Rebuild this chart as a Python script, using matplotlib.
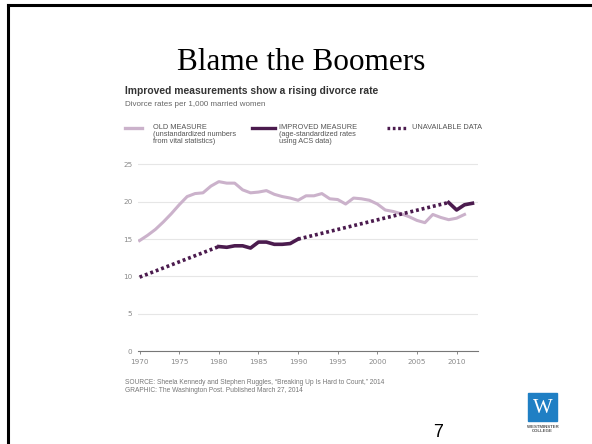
import matplotlib
matplotlib.use("Agg")
from matplotlib import pyplot as plt
from matplotlib.patches import Rectangle
from matplotlib.lines import Line2D

old_years = list(range(1970, 2012))
old_rate = [14.8, 15.5, 16.3, 17.3, 18.4, 19.6, 20.7, 21.1, 21.2, 22.1,
            22.7, 22.5, 22.5, 21.6, 21.2, 21.3, 21.5, 21.0, 20.7, 20.5,
            20.2, 20.8, 20.8, 21.1, 20.4, 20.3, 19.7, 20.5, 20.4, 20.2,
            19.7, 18.9, 18.7, 18.4, 18.0, 17.5, 17.2, 18.3, 17.9, 17.6,
            17.8, 18.3]

new_years_a = list(range(1980, 1991))
new_rate_a = [14.0, 13.9, 14.1, 14.1, 13.8, 14.6, 14.6, 14.3, 14.3, 14.4, 15.0]
new_years_b = [2009, 2010, 2011, 2012]
new_rate_b = [19.9, 18.9, 19.6, 19.8]

gap_years_a = [1970, 1980]
gap_rate_a = [9.9, 14.0]
gap_years_b = [1990, 2009]
gap_rate_b = [15.0, 19.9]

yticks = [0, 5, 10, 15, 20, 25]
xticks = [1970, 1975, 1980, 1985, 1990, 1995, 2000, 2005, 2010]

light = "#cbb2cb"
dark = "#4b1b4e"
grey = "#8a8a8a"

fig = plt.figure(figsize=(5.92, 4.44), dpi=100)
W, H = 592, 444

# slide frame
fig.add_artist(Line2D([8 / W, 8 / W], [0, 1 - 5 / H], color="black", lw=2.2))
fig.add_artist(Line2D([8 / W, 1], [1 - 5 / H, 1 - 5 / H], color="black", lw=2.2))

fig.text(301 / W, 1 - 63 / H, "Blame the Boomers", fontsize=22.5, family="Liberation Serif",
         ha="center", va="center")

fig.text(125 / W, 1 - 91 / H, "Improved measurements show a rising divorce rate",
         fontsize=7.4, weight="bold", color="#333333", va="center", family="Liberation Sans")
fig.text(125 / W, 1 - 105 / H, "Divorce rates per 1,000 married women",
         fontsize=5.8, color="#666666", va="center", family="Liberation Sans")

ax = fig.add_axes([138 / W, 1 - 351 / H, 340 / W, 191 / H])

ax.plot(old_years, old_rate, color=light, lw=2.2, solid_joinstyle="round")
ax.plot(gap_years_a, gap_rate_a, color=dark, lw=2.6, ls=(0, (0.8, 0.8)))
ax.plot(gap_years_b, gap_rate_b, color=dark, lw=2.6, ls=(0, (0.8, 0.8)))
ax.plot(new_years_a, new_rate_a, color=dark, lw=2.6)
ax.plot(new_years_b, new_rate_b, color=dark, lw=2.6)

ax.set_xlim(1969.8, 2012.7)
ax.set_ylim(0, 25.6)
ax.set_yticks(yticks)
ax.set_xticks(xticks)
ax.grid(axis="y", color="#e6e6e6", lw=0.8)
ax.set_axisbelow(True)
for s in ["top", "right", "left"]:
    ax.spines[s].set_visible(False)
ax.spines["bottom"].set_color("#777777")
ax.spines["bottom"].set_linewidth(0.8)
ax.tick_params(axis="y", length=0, labelsize=5.2, labelcolor=grey, pad=4)
ax.tick_params(axis="x", length=2.5, width=0.6, color="#777777", labelsize=5.2,
               labelcolor=grey, pad=3)

# legend
def legend_item(x0, x1, text_x, style, color, label):
    fig.add_artist(Line2D([x0 / W, x1 / W], [1 - 128 / H] * 2, color=color, lw=2.4, ls=style))
    fig.text(text_x / W, 1 - 124 / H, label, fontsize=5.3, color="#555555", va="top",
             family="Liberation Sans", linespacing=1.0)

legend_item(125, 142, 153, "-", light,
            "OLD MEASURE\n(unstandardized numbers\nfrom vital statistics)")
legend_item(252, 275, 279, "-", dark,
            "IMPROVED MEASURE\n(age-standardized rates\nusing ACS data)")
legend_item(387, 407, 412, (0, (0.8, 0.8)), dark, "UNAVAILABLE DATA")

fig.text(125 / W, 1 - 383 / H,
         "SOURCE: Sheela Kennedy and Stephen Ruggles, \u201cBreaking Up Is Hard to Count,\u201d 2014",
         fontsize=4.8, color="#777777", va="center", family="Liberation Sans")
fig.text(125 / W, 1 - 390 / H, "GRAPHIC: The Washington Post. Published March 27, 2014",
         fontsize=4.8, color="#777777", va="center", family="Liberation Sans")

fig.text(438 / W, 1 - 432 / H, "7", fontsize=13, family="Liberation Sans",
         ha="center", va="center")

# logo
fig.add_artist(Rectangle((528 / W, 1 - 421 / H), 29 / W, 28 / H, color="#1f7fc4"))
fig.text(542.5 / W, 1 - 408 / H, "W", fontsize=15, color="white", family="Liberation Serif",
         ha="center", va="center")
fig.text(542.5 / W, 1 - 429 / H, "WESTMINSTER\nCOLLEGE", fontsize=3.2, weight="bold",
         color="#555555", ha="center", va="center", family="Liberation Sans", linespacing=1.0)

fig.savefig("out.png", dpi=100)
